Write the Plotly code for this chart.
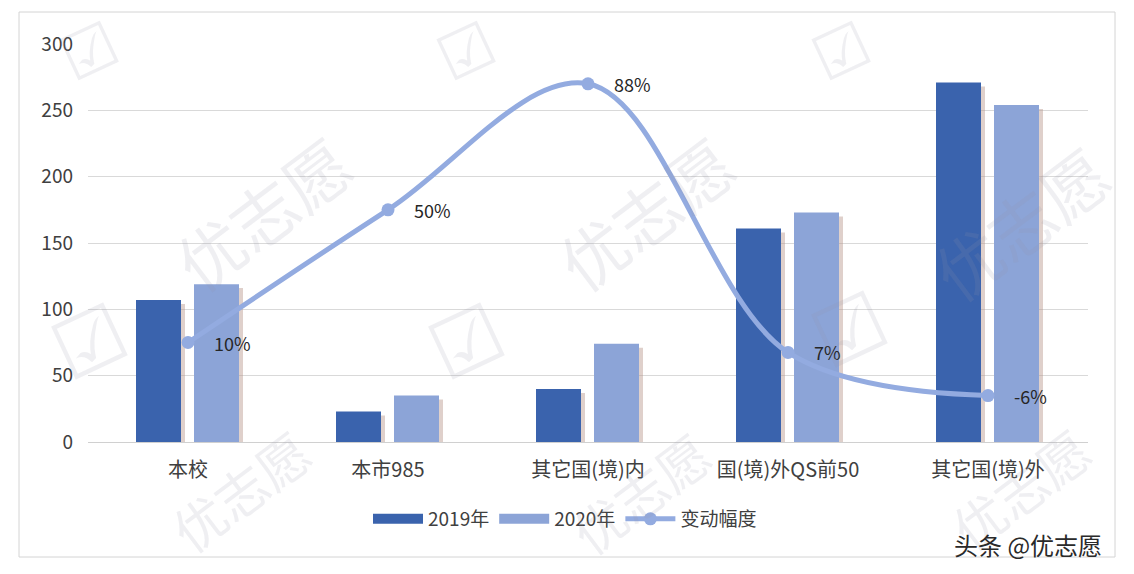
import plotly.graph_objects as go

categories = ["本校", "本市985", "其它国(境)内", "国(境)外QS前50", "其它国(境)外"]
v2019 = [107, 23, 40, 161, 271]
v2020 = [119, 35, 74, 173, 254]
change = [0.10, 0.50, 0.88, 0.07, -0.06]
change_labels = ["10%", "50%", "88%", "7%", "-6%"]
y_ticks = [0, 50, 100, 150, 200, 250, 300]

W, H = 1134, 574
ML, MR, MT, MB = 88, 46, 44, 132
PW, PH = W - ML - MR, H - MT - MB

def px(x, y):
    return (x - ML) / PW, (H - MB - y) / PH

FONT = "Noto Sans CJK SC, Noto Sans, sans-serif"
C19 = "#3a63ad"
C20 = "#8ca4d7"
CL = "#93abe0"
SHADOW = "rgba(185,150,140,0.45)"

fig = go.Figure()

# shadows
fig.add_trace(go.Bar(x=categories, y=[v - 3 for v in v2019], width=0.225, offset=-0.24,
                     marker=dict(color=SHADOW, line_width=0), showlegend=False, hoverinfo="skip"))
fig.add_trace(go.Bar(x=categories, y=[v - 3 for v in v2020], width=0.225, offset=0.05,
                     marker=dict(color=SHADOW, line_width=0), showlegend=False, hoverinfo="skip"))

fig.add_trace(go.Bar(x=categories, y=v2019, name="2019年", width=0.225, offset=-0.26,
                     marker=dict(color=C19, line_width=0), showlegend=False))
fig.add_trace(go.Bar(x=categories, y=v2020, name="2020年", width=0.225, offset=0.03,
                     marker=dict(color=C20, line_width=0), showlegend=False))

# legend entries with wide swatches
fig.add_trace(go.Scatter(x=[None], y=[None], name="2019年", mode="lines",
                         line=dict(color=C19, width=15)))
fig.add_trace(go.Scatter(x=[None], y=[None], name="2020年", mode="lines",
                         line=dict(color=C20, width=15)))

fig.add_trace(go.Scatter(x=categories, y=change, name="变动幅度", yaxis="y2",
                         mode="lines+markers",
                         line=dict(color=CL, width=5, shape="spline", smoothing=1.0),
                         marker=dict(color=CL, size=13)))

annotations = []
for c, v, t in zip(categories, change, change_labels):
    annotations.append(dict(x=c, y=v, xref="x", yref="y2", text=t, showarrow=False,
                            xanchor="left", yanchor="middle", xshift=24,
                            font=dict(family=FONT, size=18, color="#262626")))

# watermarks
wm_color = "rgba(150,150,165,0.15)"
for (x, y, s) in [(262, 212, 66), (645, 212, 66), (1020, 222, 66),
                  (240, 490, 52), (640, 492, 52), (1020, 488, 52)]:
    xx, yy = px(x, y)
    annotations.append(dict(x=xx, y=yy, xref="paper", yref="paper", text="优志愿", showarrow=False,
                            xanchor="center", yanchor="middle",
                            textangle=-37, font=dict(family=FONT, size=s, color=wm_color)))
for (x, y, s) in [(90, 52, 62), (467, 52, 62), (842, 52, 62),
                  (90, 342, 80), (467, 342, 80), (850, 330, 80)]:
    xx, yy = px(x, y)
    annotations.append(dict(x=xx, y=yy, xref="paper", yref="paper", text="☑", showarrow=False,
                            xanchor="center", yanchor="middle",
                            textangle=-25, font=dict(family="DejaVu Sans", size=s, color=wm_color)))

xx, yy = px(1028, 544)
annotations.append(dict(x=xx, y=yy, xref="paper", yref="paper", text="头条 @优志愿", showarrow=False,
                        xanchor="center", yanchor="middle",
                        font=dict(family=FONT, size=24, color="#2a2a2a")))

bx0, by0 = px(19, 557)
bx1, by1 = px(1115, 12)

fig.update_layout(
    width=W, height=H,
    margin=dict(l=ML, r=MR, t=MT, b=MB),
    paper_bgcolor="white", plot_bgcolor="white",
    barmode="overlay",
    font=dict(family=FONT, color="#404040"),
    xaxis=dict(showgrid=False, showline=False, ticks="", ticklabelstandoff=14,
               tickfont=dict(family=FONT, size=20, color="#404040"),
               range=[-0.5, 4.5]),
    yaxis=dict(range=[0, 300], tickvals=y_ticks, showgrid=True, gridcolor="#d9d9d9", gridwidth=1,
               zeroline=True, zerolinecolor="#d0d0d0", zerolinewidth=1,
               showline=False, ticks="", ticklabelstandoff=14,
               tickfont=dict(family=FONT, size=19, color="#404040")),
    yaxis2=dict(range=[-0.2, 1.0], overlaying="y", side="right", visible=False),
    legend=dict(orientation="h", x=px(565, 0)[0], xanchor="center", y=px(0, 519)[1], yanchor="middle",
                font=dict(family=FONT, size=19, color="#404040"), itemwidth=50,
                traceorder="normal", bgcolor="rgba(0,0,0,0)"),
    annotations=annotations,
    shapes=[dict(type="rect", xref="paper", yref="paper", x0=bx0, y0=by0, x1=bx1, y1=by1,
                 line=dict(color="#d4d4d4", width=1), fillcolor="rgba(0,0,0,0)", layer="below")],
    showlegend=True,
)

fig.write_html("out.html")
